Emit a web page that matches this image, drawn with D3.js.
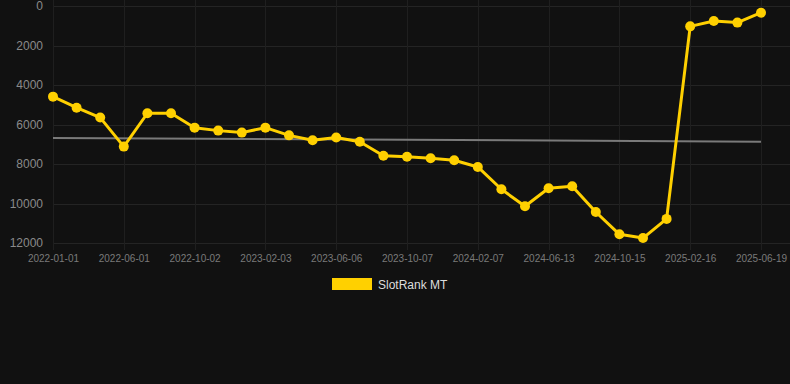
<!DOCTYPE html>
<html><head><meta charset="utf-8">
<script src="https://cdn.jsdelivr.net/npm/d3@7/dist/d3.min.js"></script>
<style>
html,body{margin:0;padding:0;background:#111111;}
svg{display:block;font-family:"Liberation Sans",Arial,sans-serif;}
</style></head>
<body>
<svg id="chart" width="790" height="384"></svg>
<script>
const categories = ["2022-01-01","2022-02-20","2022-04-11","2022-06-01","2022-07-12","2022-08-22","2022-10-02","2022-11-12","2022-12-23","2023-02-03","2023-03-16","2023-04-26","2023-06-06","2023-07-17","2023-08-27","2023-10-07","2023-11-17","2023-12-28","2024-02-07","2024-03-19","2024-05-02","2024-06-13","2024-07-24","2024-09-04","2024-10-15","2024-11-25","2025-01-05","2025-02-16","2025-03-29","2025-05-09","2025-06-19"];
const rankValues = [4590,5150,5650,7120,5430,5430,6160,6310,6410,6160,6550,6800,6660,6870,7580,7630,7710,7810,8150,9280,10140,9230,9130,10430,11560,11750,10780,1030,760,840,340];
const trendValues = [6680,6870];
const yTicks = [0,2000,4000,6000,8000,10000,12000];
const xTickLabels = ["2022-01-01","2022-06-01","2022-10-02","2023-02-03","2023-06-06","2023-10-07","2024-02-07","2024-06-13","2024-10-15","2025-02-16","2025-06-19"];
const seriesName = "SlotRank MT";

(function () {
const svg = d3.select("#chart");
const mLeft = 53, mRight = 761, mTop = 6, mBottom = 243;

const x = d3.scalePoint().domain(categories).range([mLeft, mRight]);
const y = d3.scaleLinear().domain([0, 12000]).range([mTop, mBottom]);

// grid
const grid = svg.append("g");
grid.selectAll("line.h").data(yTicks).enter().append("line")
  .attr("x1", mLeft).attr("x2", 790)
  .attr("y1", d => Math.round(y(d)) + 0.5).attr("y2", d => Math.round(y(d)) + 0.5)
  .attr("stroke", "#242424").attr("stroke-width", 1);
grid.selectAll("line.v").data(xTickLabels).enter().append("line")
  .attr("x1", d => Math.round(x(d)) + 0.5).attr("x2", d => Math.round(x(d)) + 0.5)
  .attr("y1", 0).attr("y2", 250)
  .attr("stroke", "#1f1f1f").attr("stroke-width", 1);

// y axis
const yAxis = svg.append("g").attr("transform", "translate(" + mLeft + ",0)")
  .call(d3.axisLeft(y).tickValues(yTicks).tickSize(0).tickPadding(10).tickFormat(d => String(d)));
yAxis.select(".domain").remove();
yAxis.selectAll("text").attr("font-size", 12).attr("fill", "#8a8a8a").attr("font-family", null);

// x axis
const xAxis = svg.append("g").attr("transform", "translate(0," + mBottom + ")")
  .call(d3.axisBottom(x).tickValues(xTickLabels).tickSize(0).tickPadding(12));
xAxis.select(".domain").remove();
xAxis.selectAll("text").attr("font-size", 10).attr("fill", "#7a7a7a").attr("font-family", null);

// trend line
svg.append("line")
  .attr("x1", x(categories[0])).attr("x2", x(categories[categories.length-1]))
  .attr("y1", y(trendValues[0])).attr("y2", y(trendValues[1]))
  .attr("stroke", "#7a7a7a").attr("stroke-width", 2);

// series line
const color = "#FFD000";
const line = d3.line().x((d,i) => x(categories[i])).y(d => y(d));
svg.append("path").datum(rankValues)
  .attr("d", line).attr("fill", "none")
  .attr("stroke", color).attr("stroke-width", 3).attr("stroke-linejoin", "round");
svg.append("g").selectAll("circle").data(rankValues).enter().append("circle")
  .attr("cx", (d,i) => x(categories[i])).attr("cy", d => y(d))
  .attr("r", 5).attr("fill", color);

// legend
svg.append("rect").attr("x", 332).attr("y", 278).attr("width", 40).attr("height", 12)
  .attr("fill", color);
svg.append("text").attr("x", 378).attr("y", 288.5)
  .attr("font-size", 12).attr("fill", "#dddddd").text(seriesName);
})();
</script>
</body></html>
